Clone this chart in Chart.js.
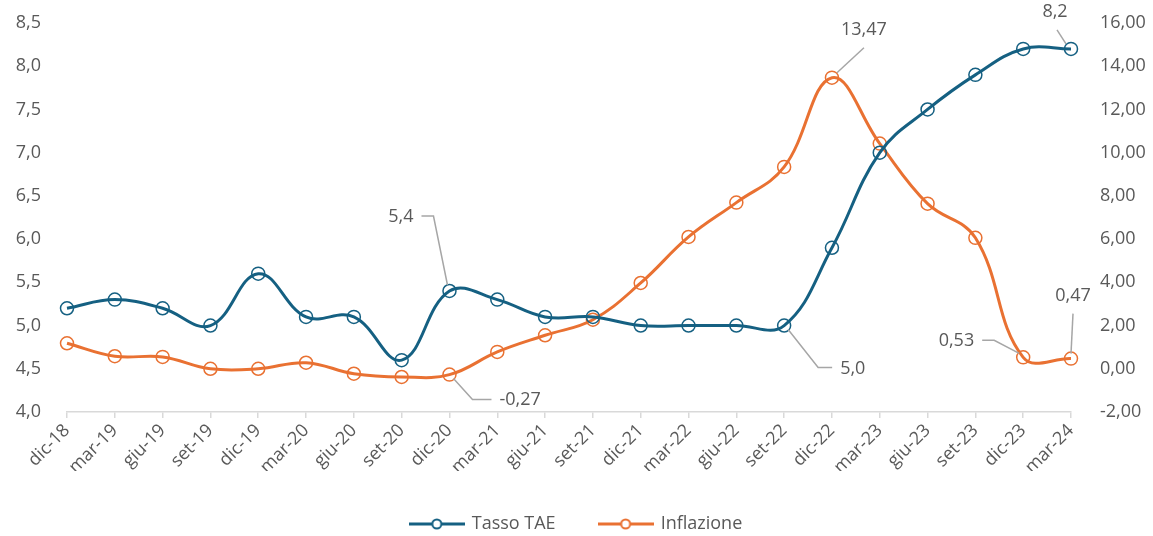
<!DOCTYPE html>
<html>
<head>
<meta charset="utf-8">
<script src="https://cdn.jsdelivr.net/npm/chart.js@4.4.1/dist/chart.umd.min.js"></script>
<style>
  html, body { margin: 0; padding: 0; background: #ffffff; }
  #wrap { width: 1153px; height: 536px; position: relative; }
</style>
</head>
<body>
<div id="wrap"><canvas id="c" width="1153" height="536"></canvas></div>
<script>
const categories = ['dic-18','mar-19','giu-19','set-19','dic-19','mar-20','giu-20','set-20','dic-20','mar-21','giu-21','set-21','dic-21','mar-22','giu-22','set-22','dic-22','mar-23','giu-23','set-23','dic-23','mar-24'];
const tassoTAE = [5.2, 5.3, 5.2, 5.0, 5.6, 5.1, 5.1, 4.6, 5.4, 5.3, 5.1, 5.1, 5.0, 5.0, 5.0, 5.0, 5.9, 7.0, 7.5, 7.9, 8.2, 8.2];
const inflazione = [1.18, 0.58, 0.55, 0.0, 0.0, 0.28, -0.23, -0.38, -0.27, 0.78, 1.55, 2.27, 3.97, 6.10, 7.69, 9.34, 13.47, 10.42, 7.64, 6.06, 0.53, 0.47];
const seriesNames = ['Tasso TAE', 'Inflazione'];
const leftTicks = [4.0, 4.5, 5.0, 5.5, 6.0, 6.5, 7.0, 7.5, 8.0, 8.5];
const rightTicks = [-2, 0, 2, 4, 6, 8, 10, 12, 14, 16];

const BLUE = '#156082';
const ORANGE = '#E97132';
const TEXT = '#595959';
const FONT = "'Open Sans', 'Liberation Sans', sans-serif";
const FS = 18;

function fmt(v, d) { return v.toFixed(d).replace('.', ','); }

function legendImage(color) {
  const c = document.createElement('canvas');
  c.width = 56; c.height = 14;
  const g = c.getContext('2d');
  g.strokeStyle = color; g.lineWidth = 3;
  g.beginPath(); g.moveTo(0, 7); g.lineTo(56, 7); g.stroke();
  g.fillStyle = '#ffffff'; g.lineWidth = 2;
  g.beginPath(); g.arc(28, 7, 4.5, 0, Math.PI * 2); g.fill(); g.stroke();
  return c;
}

// callout labels: dataset index, point index, decimals, leader path (relative), text position and alignment
const callouts = [
  { ds: 0, i: 8,  dec: 1, path: [[-2,-6],[-16,-75],[-28,-75]], tx: -36, ty: -74, align: 'right' },
  { ds: 1, i: 8,  dec: 2, path: [[4,4],[23,25],[42,25]], tx: 50, ty: 25, align: 'left' },
  { ds: 1, i: 16, dec: 2, path: [[5,-5],[32,-30]], tx: 32, ty: -48, align: 'center' },
  { ds: 0, i: 21, dec: 1, path: [[-5,-5],[-14,-19]], tx: -16, ty: -37, align: 'center' },
  { ds: 0, i: 15, dec: 1, path: [[4,4],[34,42],[48,42]], tx: 56, ty: 43, align: 'left' },
  { ds: 1, i: 20, dec: 2, path: [[-4,-4],[-29,-17],[-41,-17]], tx: -49, ty: -16, align: 'right' },
  { ds: 1, i: 21, dec: 2, path: [[0,-5],[2,-45]], tx: 2, ty: -63, align: 'center' }
];

const calloutPlugin = {
  id: 'callouts',
  afterDatasetsDraw(chart) {
    const ctx = chart.ctx;
    ctx.save();
    callouts.forEach(c => {
      const el = chart.getDatasetMeta(c.ds).data[c.i];
      const v = chart.data.datasets[c.ds].data[c.i];
      const x = el.x, y = el.y;
      ctx.strokeStyle = '#A6A6A6';
      ctx.lineWidth = 1.5;
      ctx.beginPath();
      c.path.forEach((p, k) => { if (k === 0) ctx.moveTo(x + p[0], y + p[1]); else ctx.lineTo(x + p[0], y + p[1]); });
      ctx.stroke();
      ctx.fillStyle = TEXT;
      ctx.font = FS + 'px ' + FONT;
      ctx.textAlign = c.align;
      ctx.textBaseline = 'middle';
      ctx.fillText(fmt(v, c.dec), x + c.tx, y + c.ty);
    });
    ctx.restore();
  }
};

new Chart(document.getElementById('c'), {
  type: 'line',
  data: {
    labels: categories,
    datasets: [
      {
        label: seriesNames[0], data: tassoTAE, yAxisID: 'y',
        borderColor: BLUE, backgroundColor: '#ffffff', borderWidth: 3,
        pointRadius: 6.5, pointBorderWidth: 1.5, pointBackgroundColor: 'rgba(255,255,255,0)', pointBorderColor: BLUE,
        pointStyle: 'circle', tension: 0.4
      },
      {
        label: seriesNames[1], data: inflazione, yAxisID: 'y1',
        borderColor: ORANGE, backgroundColor: '#ffffff', borderWidth: 3,
        pointRadius: 6.5, pointBorderWidth: 1.5, pointBackgroundColor: 'rgba(255,255,255,0)', pointBorderColor: ORANGE,
        pointStyle: 'circle', tension: 0.4
      }
    ]
  },
  options: {
    responsive: false,
    animation: false,
    layout: { padding: { top: 23, bottom: -7, left: 0, right: 0 } },
    plugins: {
      tooltip: { enabled: false },
      legend: {
        position: 'bottom',
        labels: {
          usePointStyle: true,
          pointStyleWidth: 52,
          padding: 44,
          color: TEXT,
          font: { family: FONT, size: FS },
          generateLabels(chart) {
            return chart.data.datasets.map((ds, k) => ({
              text: ds.label, pointStyle: legendImage(k === 0 ? BLUE : ORANGE),
              fillStyle: '#fff', strokeStyle: k === 0 ? BLUE : ORANGE, lineWidth: 0,
              fontColor: TEXT, datasetIndex: k, hidden: false
            }));
          }
        }
      }
    },
    scales: {
      x: {
        type: 'category',
        offset: false,
        grid: { display: true, drawOnChartArea: false, drawTicks: true, tickLength: 6, color: '#D9D9D9', lineWidth: 1.5 },
        border: { display: true, color: '#D9D9D9', width: 1.5 },
        ticks: { color: TEXT, font: { family: FONT, size: FS }, minRotation: 45, maxRotation: 45, autoSkip: false, padding: 2 },
        afterFit(s) { s.height = 59; }
      },
      y: {
        type: 'linear', position: 'left',
        min: 4.0, max: 8.5,
        afterBuildTicks(s) { s.ticks = leftTicks.map(v => ({ value: v })); },
        grid: { display: false, drawTicks: false },
        border: { display: false },
        ticks: { color: TEXT, font: { family: FONT, size: FS }, padding: 26, callback: v => fmt(v, 1) },
        afterFit(s) { s.width = 67; s.paddingTop = 11; s.paddingBottom = 11; }
      },
      y1: {
        type: 'linear', position: 'right',
        min: -2, max: 16,
        afterBuildTicks(s) { s.ticks = rightTicks.map(v => ({ value: v })); },
        grid: { display: false, drawTicks: false },
        border: { display: false },
        ticks: { color: TEXT, font: { family: FONT, size: FS }, padding: 29, callback: v => fmt(v, 2) },
        afterFit(s) { s.width = 82; s.paddingTop = 11; s.paddingBottom = 11; }
      }
    }
  },
  plugins: [calloutPlugin]
});
</script>
</body>
</html>
